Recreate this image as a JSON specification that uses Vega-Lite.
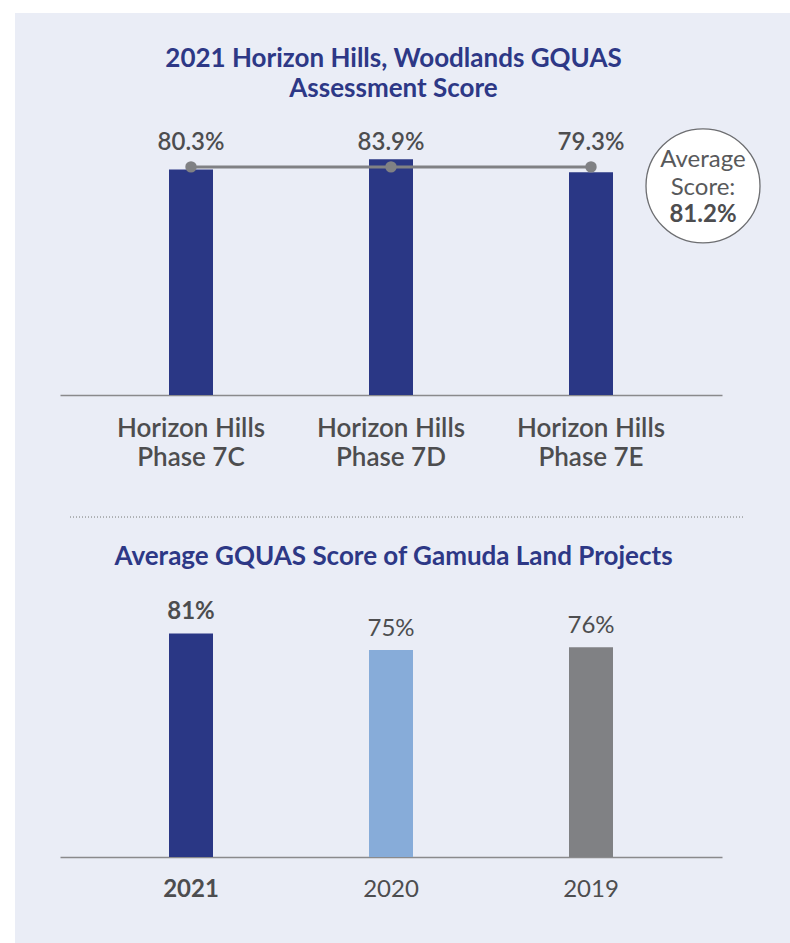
{
  "$schema": "https://vega.github.io/schema/vega-lite/v6.json",
  "width": 790,
  "height": 943,
  "autosize": {"type": "fit", "contains": "padding"},
  "padding": {"left": 15, "top": 13, "right": 0, "bottom": 0},
  "background": "#ffffff",
  "config": {
    "view": {"fill": "#eaedf6", "stroke": null},
    "font": "Lato",
    "axis": {"grid": false}
  },
  "title": {
    "text": ["2021 Horizon Hills, Woodlands GQUAS", "Assessment Score"],
    "subtitle": "Average GQUAS Score of Gamuda Land Projects",
    "orient": "top",
    "anchor": "middle",
    "frame": "group",
    "offset": -557,
    "dx": -9,
    "font": "Lato",
    "fontSize": 26,
    "fontWeight": "bold",
    "color": "#2d3886",
    "lineHeight": 30,
    "subtitleFont": "Lato",
    "subtitleFontSize": 26,
    "subtitleFontWeight": "bold",
    "subtitleColor": "#2d3886",
    "subtitlePadding": 442
  },
  "datasets": {
    "phases": [
      {"project": "Horizon Hills Phase 7C", "score": 80.3, "label": "80.3%"},
      {"project": "Horizon Hills Phase 7D", "score": 83.9, "label": "83.9%"},
      {"project": "Horizon Hills Phase 7E", "score": 79.3, "label": "79.3%"}
    ],
    "average": [{"avg": 81.2, "label": "81.2%"}],
    "years": [
      {"year": "2021", "score": 81, "label": "81%"},
      {"year": "2020", "score": 75, "label": "75%"},
      {"year": "2019", "score": 76, "label": "76%"}
    ]
  },
  "layer": [
    {
      "data": {"name": "phases"},
      "layer": [
        {
          "mark": {"type": "bar", "color": "#2a3785", "width": {"band": 0.22}},
          "encoding": {
            "x": {
              "field": "project", "type": "nominal", "sort": null,
              "scale": {"range": [45, 707], "paddingInner": 0, "paddingOuter": 0.155},
              "axis": {
                "orient": "bottom", "offset": -548, "title": null, "ticks": false,
                "domainColor": "#8a8a8c", "domainWidth": 1.5,
                "labelAngle": 0, "labelFont": "Lato", "labelFontSize": 26, "labelFontWeight": 600,
                "labelColor": "#4d4d4f", "labelPadding": 20, "labelLineHeight": 29, "labelLimit": 0,
                "labelExpr": "[substring(datum.label, 0, 13), substring(datum.label, 14)]"
              }
            },
            "y": {
              "field": "score", "type": "quantitative",
              "scale": {"domain": [-195, 135.96], "nice": false, "zero": false},
              "axis": null
            }
          }
        },
        {
          "mark": {"type": "line", "color": "#808184", "strokeWidth": 3},
          "encoding": {
            "x": {"field": "project", "type": "nominal", "sort": null},
            "y": {"datum": 81.2}
          }
        },
        {
          "mark": {"type": "point", "filled": true, "color": "#808184", "opacity": 1, "size": 130},
          "encoding": {
            "x": {"field": "project", "type": "nominal", "sort": null},
            "y": {"datum": 81.2}
          }
        },
        {
          "mark": {"type": "text", "font": "Lato", "fontSize": 24, "fontWeight": 600, "color": "#4d4d4f", "baseline": "alphabetic", "dy": -17},
          "encoding": {
            "x": {"field": "project", "type": "nominal", "sort": null},
            "y": {"datum": 81.2},
            "text": {"field": "label"}
          }
        },
        {
          "mark": {"type": "rule", "color": "#a7a9ac", "strokeWidth": 1, "strokeDash": [1, 2], "xOffset": -121, "x2Offset": 154, "yOffset": 122},
          "encoding": {
            "x": {"datum": "Horizon Hills Phase 7C"},
            "x2": {"datum": "Horizon Hills Phase 7E"},
            "y": {"datum": 0}
          }
        },
        {
          "data": {"name": "average"},
          "mark": {"type": "point", "shape": "circle", "filled": true, "fill": "#ffffff", "stroke": "#6d6e71", "strokeWidth": 1.3, "opacity": 1, "size": 12996, "xOffset": 112, "yOffset": 19},
          "encoding": {
            "x": {"datum": "Horizon Hills Phase 7E"},
            "y": {"field": "avg", "type": "quantitative"}
          }
        },
        {
          "data": {"name": "average"},
          "mark": {"type": "text", "font": "Lato", "fontSize": 24, "fontWeight": "normal", "color": "#58595b", "baseline": "alphabetic", "lineHeight": 28, "xOffset": 112, "yOffset": 0},
          "encoding": {
            "x": {"datum": "Horizon Hills Phase 7E"},
            "y": {"field": "avg", "type": "quantitative"},
            "text": {"value": ["Average", "Score:"]}
          }
        },
        {
          "data": {"name": "average"},
          "mark": {"type": "text", "font": "Lato", "fontSize": 24, "fontWeight": "bold", "color": "#4d4d4f", "baseline": "alphabetic", "xOffset": 112, "yOffset": 55},
          "encoding": {
            "x": {"datum": "Horizon Hills Phase 7E"},
            "y": {"field": "avg", "type": "quantitative"},
            "text": {"field": "label"}
          }
        }
      ]
    },
    {
      "data": {"name": "years"},
      "layer": [
        {
          "mark": {"type": "bar", "width": {"band": 0.22}},
          "encoding": {
            "x": {
              "field": "year", "type": "nominal", "sort": null,
              "scale": {"range": [45, 707], "paddingInner": 0, "paddingOuter": 0.155},
              "axis": {
                "orient": "bottom", "offset": -86, "title": null, "ticks": false,
                "domainColor": "#8a8a8c", "domainWidth": 1.5,
                "labelAngle": 0, "labelFont": "Lato", "labelFontSize": 24,
                "labelFontWeight": {"condition": {"test": "datum.value == '2021'", "value": "bold"}, "value": "normal"},
                "labelColor": "#4d4d4f", "labelPadding": 20
              }
            },
            "y": {
              "field": "score", "type": "quantitative",
              "scale": {"domain": [-31.16, 305.8], "nice": false, "zero": false},
              "axis": null
            },
            "color": {
              "field": "year", "type": "nominal", "sort": null,
              "scale": {"domain": ["2021", "2020", "2019"], "range": ["#2a3785", "#87acd9", "#808184"]},
              "legend": null
            }
          }
        },
        {
          "mark": {"type": "text", "font": "Lato", "fontSize": 24, "color": "#4d4d4f", "baseline": "alphabetic", "dy": -14,
                   "fontWeight": {"expr": "datum.year == '2021' ? 'bold' : 'normal'"}},
          "encoding": {
            "x": {"field": "year", "type": "nominal", "sort": null},
            "y": {"field": "score", "type": "quantitative"},
            "text": {"field": "label"}
          }
        }
      ]
    }
  ],
  "resolve": {
    "scale": {"x": "independent", "y": "independent", "color": "independent"},
    "axis": {"x": "independent", "y": "independent"}
  }
}
